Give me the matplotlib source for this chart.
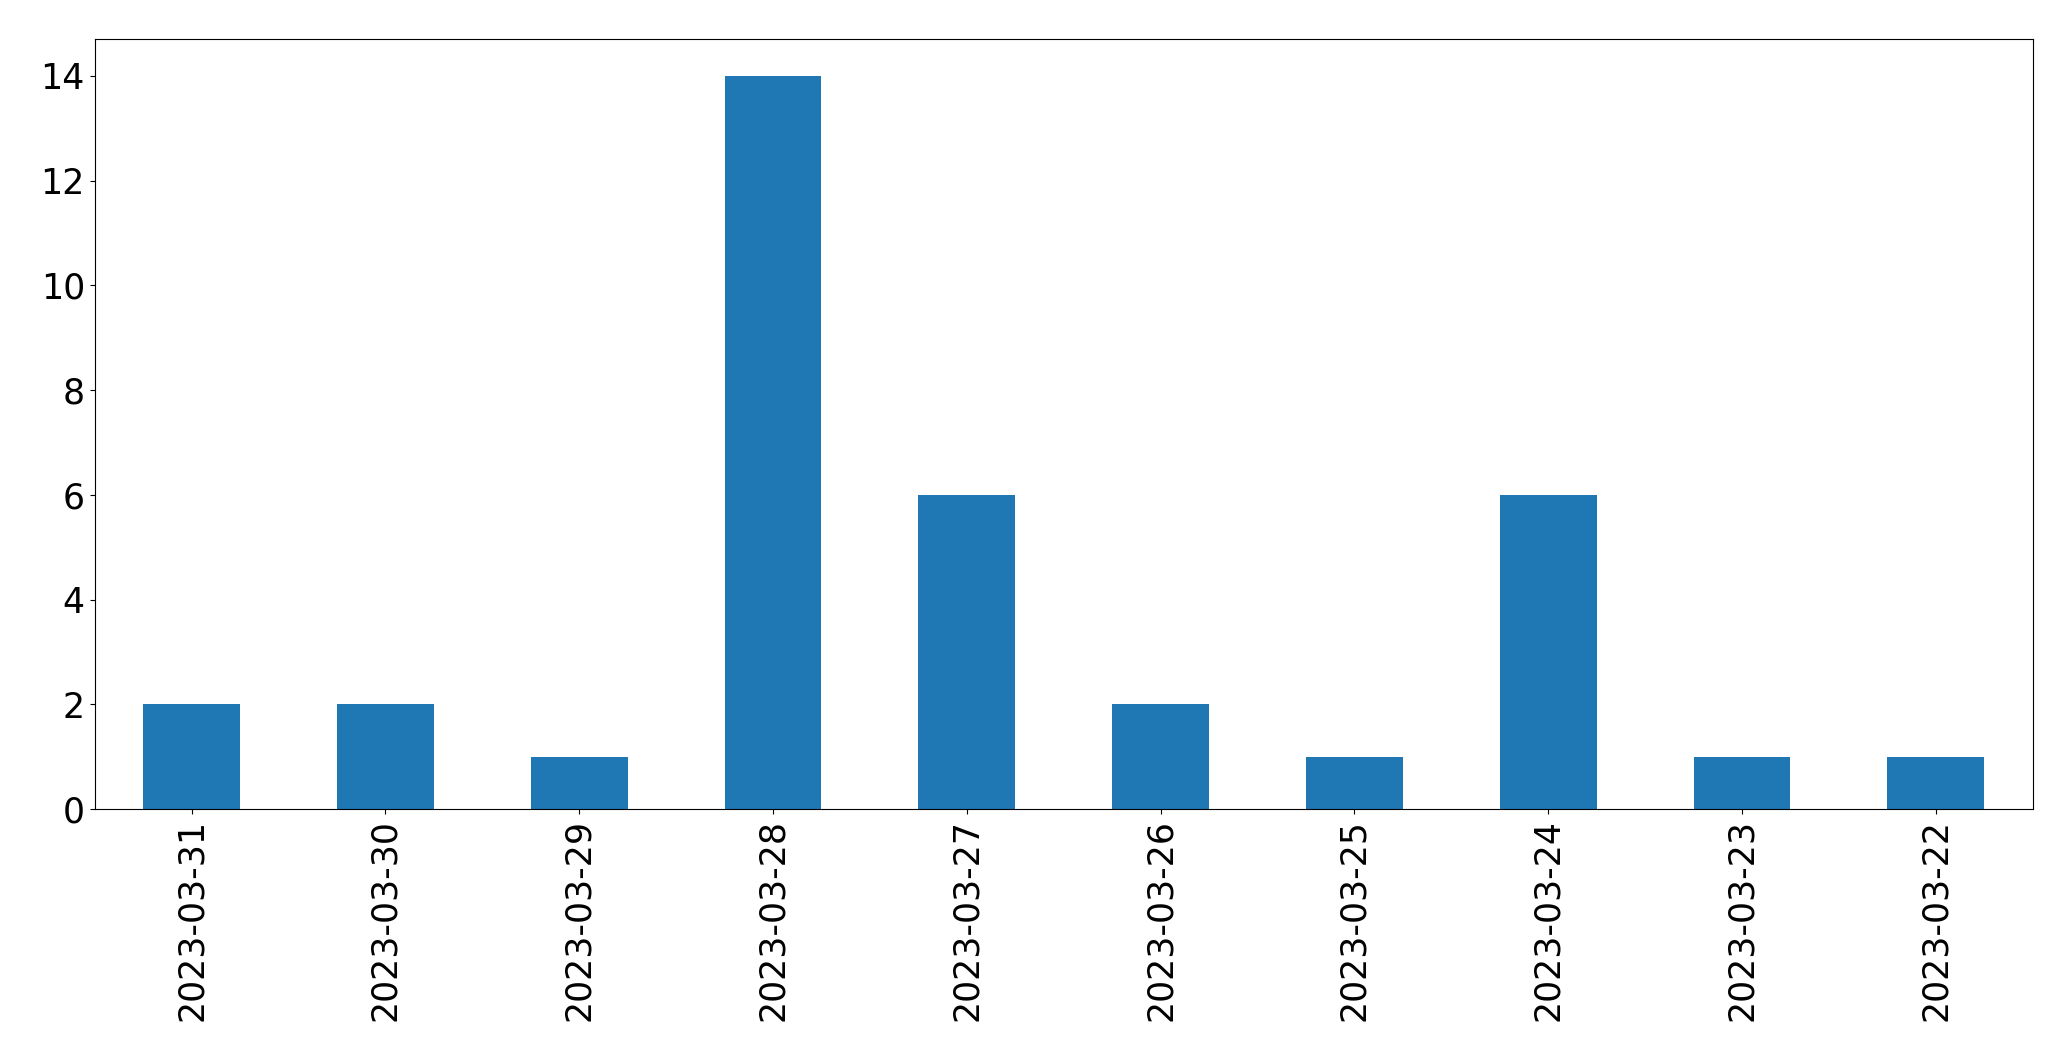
import matplotlib
matplotlib.use("Agg")
import matplotlib.pyplot as plt

dates = ["2023-03-31", "2023-03-30", "2023-03-29", "2023-03-28", "2023-03-27",
         "2023-03-26", "2023-03-25", "2023-03-24", "2023-03-23", "2023-03-22"]
counts = [2, 2, 1, 14, 6, 2, 1, 6, 1, 1]

fig, ax = plt.subplots(figsize=(20.71, 10.61), dpi=100)
fig.subplots_adjust(left=0.0457, right=0.9815, top=0.963, bottom=0.2375)

x = list(range(len(dates)))
ax.bar(x, counts, width=0.5, color="#1f77b4")
ax.set_xticks(x)
ax.set_xticklabels(dates, rotation=90)
ax.set_xlim(-0.5, len(dates) - 0.5)
ax.tick_params(axis="both", labelsize=25)

fig.savefig("out.png", dpi=100)
